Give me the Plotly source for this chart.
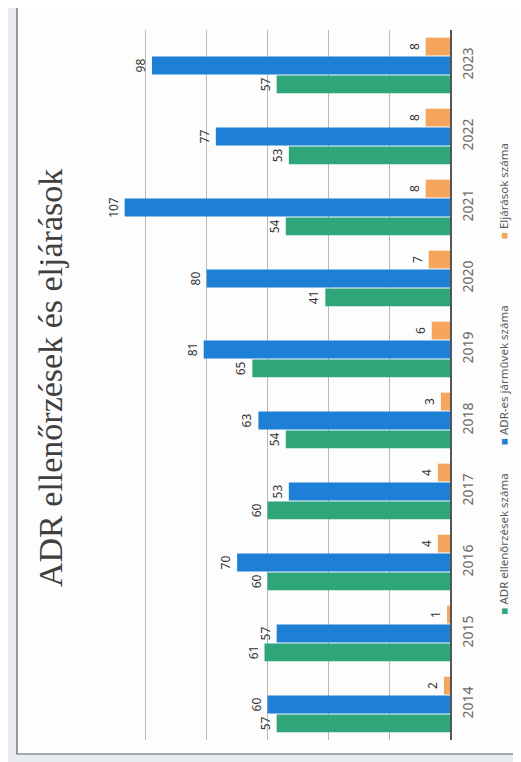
import plotly.graph_objects as go

# adatok (évek és a három sorozat)
years = ['2014', '2015', '2016', '2017', '2018', '2019', '2020', '2021', '2022', '2023']
ellenorzesek = [57, 61, 60, 60, 54, 65, 41, 54, 53, 57]
jarmuvek = [60, 57, 70, 53, 63, 81, 80, 107, 77, 98]
eljarasok = [2, 1, 4, 4, 3, 6, 7, 8, 8, 8]

series_names = ['ADR ellenőrzések száma', 'ADR-es járművek száma', 'Eljárások száma']
colors = ['#2fa67a', '#1d7fd6', '#f5a55c']

# the page puts the figure 8px in from the window corner (body margin)
OFF = 8
W, H = 521, 762
L, T = 79 - OFF, 30 - OFF
R, B = W - (450 - OFF), H - (740 - OFF)
pw, ph = W - L - R, H - T - B


def px_x(x):
    # window pixel -> paper x
    return (x - OFF - L) / pw


def px_y(y):
    # window pixel -> paper y
    return (H - (y - OFF) - B) / ph


fig = go.Figure()
for name, vals, col in zip(series_names, [ellenorzesek, jarmuvek, eljarasok], colors):
    fig.add_trace(go.Bar(
        y=years, x=vals, name=name, orientation='h',
        marker=dict(color=col, line=dict(width=0)),
        text=[str(v) for v in vals], textposition='outside', textangle=-90,
        textfont=dict(family='Noto Sans', size=12, color='#333333'),
        cliponaxis=False, constraintext='none',
    ))

# frame of the scanned page
fig.add_shape(type='rect', xref='paper', yref='paper',
              x0=px_x(17), x1=px_x(516), y0=px_y(754), y1=px_y(7),
              line=dict(color='#5e5e5e', width=1.2), fillcolor='#fdfdfd', layer='below')

# title, rotated like the scan
fig.add_annotation(text='ADR ellenőrzések és eljárások', xref='paper', yref='paper',
                   x=px_x(50), y=px_y(378), xanchor='center', yanchor='middle',
                   textangle=-90, showarrow=False,
                   font=dict(family='Liberation Serif', size=34, color='#404040'))

# legend drawn as rotated text
leg_y = [617, 447, 241]
for name, col, ly in zip(series_names, colors, leg_y):
    fig.add_annotation(
        text='<span style="color:%s">■</span> %s' % (col, name),
        xref='paper', yref='paper', x=px_x(503), y=px_y(ly),
        xanchor='center', yanchor='bottom', textangle=-90, showarrow=False,
        font=dict(family='Noto Sans', size=11.5, color='#595959'))

fig.update_layout(
    width=W, height=H,
    margin=dict(l=L, r=R, t=T, b=B),
    paper_bgcolor='#e8ecf0', plot_bgcolor='rgba(0,0,0,0)',
    barmode='group', bargap=0.2, bargroupgap=0.06,
    showlegend=False,
    xaxis=dict(range=[122, 0], tickvals=[20, 40, 60, 80, 100], showticklabels=False,
               showgrid=True, gridcolor='#b8b8b8', gridwidth=1, zeroline=False, fixedrange=True),
    yaxis=dict(type='category', side='right', showline=True, linecolor='#555555', linewidth=1.5,
               tickangle=-90, ticks='', ticklabelstandoff=4, showgrid=False,
               tickfont=dict(family='Noto Sans', size=14, color='#6a6a6a')),
)

fig.write_html("out.html")
